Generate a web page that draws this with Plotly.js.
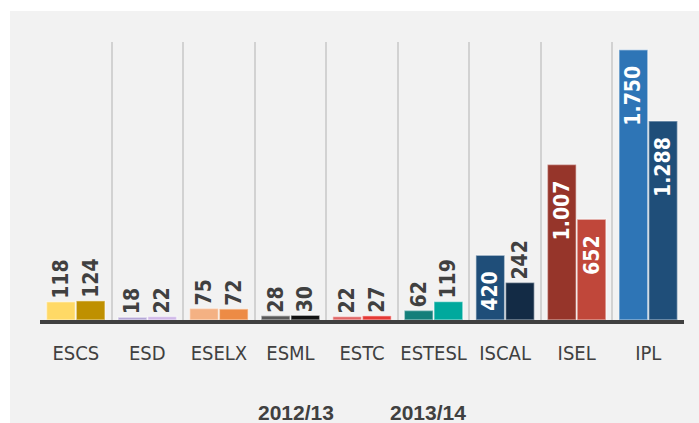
<!DOCTYPE html>
<html>
<head>
<meta charset="utf-8">
<script src="https://cdn.plot.ly/plotly-3.0.1.min.js"></script>
<style>
html, body { margin: 0; padding: 0; background: #ffffff; }
#chart { position: absolute; left: 10px; top: 11px; width: 689px; height: 412px; }
</style>
</head>
<body>
<div id="chart"></div>
<script>
const categories = ["ESCS", "ESD", "ESELX", "ESML", "ESTC", "ESTESL", "ISCAL", "ISEL", "IPL"];
const seriesNames = ["2012/13", "2013/14"];
const values2012 = [118, 18, 75, 28, 22, 62, 420, 1007, 1750];
const values2013 = [124, 22, 72, 30, 27, 119, 242, 652, 1288];
const colors2012 = ["#FFD966", "#B4A7D6", "#F4B183", "#595959", "#E06666", "#137F7A", "#1F4E79", "#96352A", "#2E75B6"];
const colors2013 = ["#BF9000", "#D0B8E8", "#ED8B45", "#111111", "#E53935", "#00A99D", "#132B45", "#C0473A", "#1F4E79"];

const valueFont = "DejaVu Sans Condensed, DejaVu Sans";
const labelFont = "DejaVu Sans Condensed, DejaVu Sans";

function positions(vals) { return vals.map(v => v > 300 ? "inside" : "outside"); }
function templates(vals) { return vals.map(v => v > 300 ? "%{y:,.0f}\u00a0\u00a0" : "%{y:,.0f}"); }

function makeTrace(name, vals, cols) {
  return {
    type: "bar",
    name: name,
    x: categories,
    y: vals,
    texttemplate: templates(vals),
    textposition: positions(vals),
    textangle: -90,
    insidetextanchor: "end",
    constraintext: "none",
    insidetextfont: { family: valueFont, size: 21, color: "#ffffff", weight: "bold" },
    outsidetextfont: { family: valueFont, size: 21, color: "#404040", weight: "bold" },
    cliponaxis: false,
    hoverinfo: "skip",
    showlegend: false,
    marker: { color: cols, line: { color: "rgba(255,255,255,0.45)", width: 1.5 } }
  };
}

const traces = [
  makeTrace(seriesNames[0], values2012, colors2012),
  makeTrace(seriesNames[1], values2013, colors2013)
];

const layout = {
  width: 689, height: 412,
  paper_bgcolor: "#f2f2f2",
  plot_bgcolor: "#f2f2f2",
  separators: ",.",
  margin: { l: 30, r: 15, t: 31, b: 103 },
  barmode: "group",
  bargap: 0.17,
  bargroupgap: 0.03,
  font: { family: labelFont, color: "#404040" },
  xaxis: {
    type: "category",
    tickson: "boundaries",
    showgrid: true,
    gridcolor: "#d2d2d2",
    gridwidth: 2,
    ticks: "",
    tickangle: 0,
    showline: true,
    linecolor: "#404040",
    linewidth: 4,
    tickfont: { family: labelFont, size: 20, color: "#404040" },
    ticklabelstandoff: 12,
    fixedrange: true
  },
  yaxis: {
    range: [0, 1800],
    showgrid: false,
    zeroline: false,
    showticklabels: false,
    ticks: "",
    fixedrange: true
  },
  annotations: [
    { text: "<b>" + seriesNames[0] + "</b>", xref: "paper", yref: "paper", x: 0.3975, y: -0.331, yanchor: "middle", xanchor: "center", showarrow: false, font: { family: "Liberation Sans, Arial", size: 21, color: "#404040" } },
    { text: "<b>" + seriesNames[1] + "</b>", xref: "paper", yref: "paper", x: 0.6025, y: -0.331, yanchor: "middle", xanchor: "center", showarrow: false, font: { family: "Liberation Sans, Arial", size: 21, color: "#404040" } }
  ]
};

Plotly.newPlot("chart", traces, layout, { displayModeBar: false, staticPlot: true });
</script>
</body>
</html>
